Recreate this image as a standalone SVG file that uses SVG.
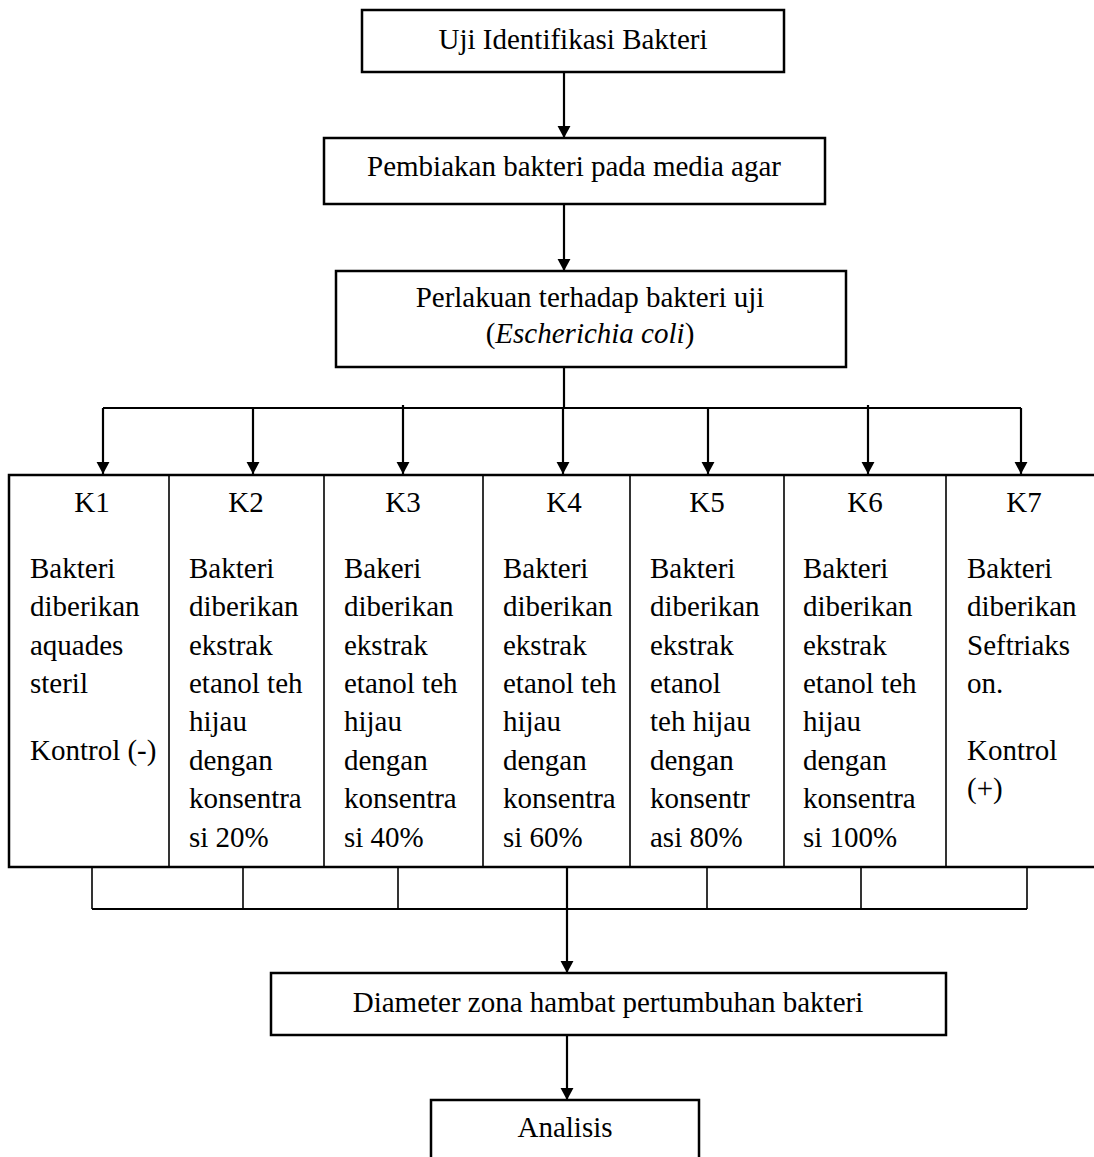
<svg xmlns="http://www.w3.org/2000/svg" width="1094" height="1157" viewBox="0 0 1094 1157">
<style>
text{font-family:"Liberation Serif","Times New Roman",serif;font-size:29px;fill:#000}
.c{text-anchor:middle}
.box{fill:#fff;stroke:#000;stroke-width:2.5}
.ln{fill:none;stroke:#000;stroke-width:2.2}
.thin{fill:none;stroke:#000;stroke-width:1.6}
</style>
<defs>
<marker id="ah" viewBox="0 0 14 13" refX="7" refY="13" markerWidth="14" markerHeight="13" markerUnits="userSpaceOnUse" orient="auto-start-reverse">
<path d="M0,0 L14,0 L7,13 Z" fill="#000" transform="rotate(0)"/>
</marker>
<marker id="ahd" viewBox="0 0 14 13" refX="13" refY="7" markerWidth="13" markerHeight="14" markerUnits="userSpaceOnUse" orient="auto">
<path d="M0,0 L13,7 L0,14 Z" fill="#000"/>
</marker>
</defs>
<g id="connectors">
<line class="ln" x1="564" y1="72" x2="564" y2="138" marker-end="url(#ahd)"/>
<line class="ln" x1="564" y1="204" x2="564" y2="271" marker-end="url(#ahd)"/>
<line class="ln" x1="564" y1="367" x2="564" y2="408"/>
<line class="ln" x1="103" y1="408" x2="1021" y2="408"/>
<line class="ln" x1="103" y1="408" x2="103" y2="474" marker-end="url(#ahd)"/>
<line class="ln" x1="253" y1="408" x2="253" y2="474" marker-end="url(#ahd)"/>
<line class="ln" x1="403" y1="405" x2="403" y2="474" marker-end="url(#ahd)"/>
<line class="ln" x1="563" y1="408" x2="563" y2="474" marker-end="url(#ahd)"/>
<line class="ln" x1="708" y1="408" x2="708" y2="474" marker-end="url(#ahd)"/>
<line class="ln" x1="868" y1="405" x2="868" y2="474" marker-end="url(#ahd)"/>
<line class="ln" x1="1021" y1="408" x2="1021" y2="474" marker-end="url(#ahd)"/>
<line class="thin" x1="92" y1="867" x2="92" y2="909"/>
<line class="thin" x1="243" y1="867" x2="243" y2="909"/>
<line class="thin" x1="398" y1="867" x2="398" y2="909"/>
<line class="thin" x1="707" y1="867" x2="707" y2="909"/>
<line class="thin" x1="861" y1="867" x2="861" y2="909"/>
<line class="thin" x1="1027" y1="867" x2="1027" y2="909"/>
<line class="ln" x1="92" y1="909" x2="1027" y2="909"/>
<line class="ln" x1="567" y1="867" x2="567" y2="973" marker-end="url(#ahd)"/>
<line class="ln" x1="567" y1="1035" x2="567" y2="1100" marker-end="url(#ahd)"/>
</g>
<g id="n1">
<rect class="box" x="362" y="10" width="422" height="62"/>
<text class="c" x="573" y="49">Uji Identifikasi Bakteri</text>
</g>
<g id="n2">
<rect class="box" x="324" y="138" width="501" height="66"/>
<text class="c" x="574" y="176">Pembiakan bakteri pada media agar</text>
</g>
<g id="n3">
<rect class="box" x="336" y="271" width="510" height="96"/>
<text class="c" x="590" y="307">Perlakuan terhadap bakteri uji</text>
<text class="c" x="590" y="343">(<tspan font-style="italic">Escherichia coli</tspan>)</text>
</g>
<g id="table">
<rect class="box" x="9" y="475" width="1100" height="392"/>
<line class="thin" x1="169" y1="475" x2="169" y2="867"/>
<line class="thin" x1="324" y1="475" x2="324" y2="867"/>
<line class="thin" x1="483" y1="475" x2="483" y2="867"/>
<line class="thin" x1="630" y1="475" x2="630" y2="867"/>
<line class="thin" x1="784" y1="475" x2="784" y2="867"/>
<line class="thin" x1="946" y1="475" x2="946" y2="867"/>
</g>
<g id="k1">
<text class="c" x="92" y="512">K1</text>
<text x="30" y="578">Bakteri</text>
<text x="30" y="616">diberikan</text>
<text x="30" y="655">aquades</text>
<text x="30" y="693">steril</text>
<text x="30" y="760">Kontrol (-)</text>
</g>
<g id="k2">
<text class="c" x="246" y="512">K2</text>
<text x="189" y="578">Bakteri</text>
<text x="189" y="616">diberikan</text>
<text x="189" y="655">ekstrak</text>
<text x="189" y="693">etanol teh</text>
<text x="189" y="731">hijau</text>
<text x="189" y="770">dengan</text>
<text x="189" y="808">konsentra</text>
<text x="189" y="847">si 20%</text>
</g>
<g id="k3">
<text class="c" x="403" y="512">K3</text>
<text x="344" y="578">Bakeri</text>
<text x="344" y="616">diberikan</text>
<text x="344" y="655">ekstrak</text>
<text x="344" y="693">etanol teh</text>
<text x="344" y="731">hijau</text>
<text x="344" y="770">dengan</text>
<text x="344" y="808">konsentra</text>
<text x="344" y="847">si 40%</text>
</g>
<g id="k4">
<text class="c" x="564" y="512">K4</text>
<text x="503" y="578">Bakteri</text>
<text x="503" y="616">diberikan</text>
<text x="503" y="655">ekstrak</text>
<text x="503" y="693">etanol teh</text>
<text x="503" y="731">hijau</text>
<text x="503" y="770">dengan</text>
<text x="503" y="808">konsentra</text>
<text x="503" y="847">si 60%</text>
</g>
<g id="k5">
<text class="c" x="707" y="512">K5</text>
<text x="650" y="578">Bakteri</text>
<text x="650" y="616">diberikan</text>
<text x="650" y="655">ekstrak</text>
<text x="650" y="693">etanol</text>
<text x="650" y="731">teh hijau</text>
<text x="650" y="770">dengan</text>
<text x="650" y="808">konsentr</text>
<text x="650" y="847">asi 80%</text>
</g>
<g id="k6">
<text class="c" x="865" y="512">K6</text>
<text x="803" y="578">Bakteri</text>
<text x="803" y="616">diberikan</text>
<text x="803" y="655">ekstrak</text>
<text x="803" y="693">etanol teh</text>
<text x="803" y="731">hijau</text>
<text x="803" y="770">dengan</text>
<text x="803" y="808">konsentra</text>
<text x="803" y="847">si 100%</text>
</g>
<g id="k7">
<text class="c" x="1024" y="512">K7</text>
<text x="967" y="578">Bakteri</text>
<text x="967" y="616">diberikan</text>
<text x="967" y="655">Seftriaks</text>
<text x="967" y="693">on.</text>
<text x="967" y="760">Kontrol</text>
<text x="967" y="798">(+)</text>
</g>
<g id="n4">
<rect class="box" x="271" y="973" width="675" height="62"/>
<text class="c" x="608" y="1012">Diameter zona hambat pertumbuhan bakteri</text>
</g>
<g id="n5">
<rect class="box" x="431" y="1100" width="268" height="80"/>
<text class="c" x="565" y="1137">Analisis</text>
</g>
</svg>
